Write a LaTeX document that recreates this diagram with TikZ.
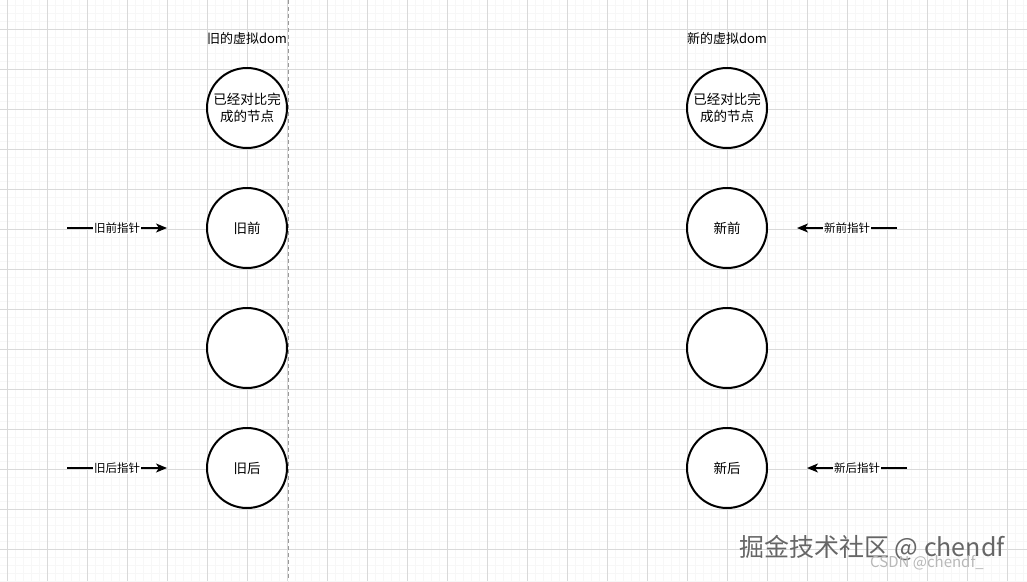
\documentclass[tikz,border=0pt]{standalone}
\usepackage{fontspec}
\newfontfamily\cjk{Noto Sans CJK SC}
\usetikzlibrary{arrows.meta}
\begin{document}
\begin{tikzpicture}[x=1pt,y=-1pt,
  circ/.style={circle,draw=black,line width=2pt,minimum size=80pt,inner sep=0pt,align=center,font=\cjk\fontsize{13.5}{16.5}\selectfont,fill=white},
  ttl/.style={font=\cjk\fontsize{13}{16}\selectfont,inner sep=0pt},
  ptr/.style={draw=black,line width=1.6pt,-{Stealth[length=11pt,width=9pt,inset=3pt]}},
  ptrlabel/.style={fill=white,inner sep=1pt,font=\cjk\fontsize{11.5}{14}\selectfont}
]
\useasboundingbox (0,0) rectangle (1027,581);
\fill[white] (0,0) rectangle (1027,581);
% minor grid
\foreach \x in {7.7,15.7,...,1027} \draw[black!3,line width=0.6pt] (\x,0) -- (\x,581);
\foreach \y in {5,13,...,581} \draw[black!3,line width=0.6pt] (0,\y) -- (1027,\y);
% major grid
\foreach \x in {7.7,47.7,...,1027} \draw[black!15,line width=0.9pt] (\x,0) -- (\x,581);
\foreach \y in {29,69,...,581} \draw[black!15,line width=0.9pt] (0,\y) -- (1027,\y);
% dashed divider
\draw[black!40,dashed,dash pattern=on 4pt off 3pt,line width=0.8pt] (288,0) -- (288,581);

% titles
\node[ttl] (t1) at (247,39) {旧的虚拟dom};
\node[ttl] (t2) at (727,39) {新的虚拟dom};

% left column
\node[circ] (o1) at (247,108) {已经对比完\\成的节点};
\node[circ] (o2) at (247,228) {旧前};
\node[circ] (o3) at (247,348) {};
\node[circ] (o4) at (247,468) {旧后};

% right column
\node[circ] (n1) at (727,108) {已经对比完\\成的节点};
\node[circ] (n2) at (727,228) {新前};
\node[circ] (n3) at (727,348) {};
\node[circ] (n4) at (727,468) {新后};

% pointers
\coordinate (a1s) at (67,228);  \coordinate (a1e) at (167,228);
\coordinate (a2s) at (67,468);  \coordinate (a2e) at (167,468);
\coordinate (b1s) at (897,228); \coordinate (b1e) at (797,228);
\coordinate (b2s) at (907,468); \coordinate (b2e) at (807,468);
\draw[ptr] (a1s) -- (a1e);
\draw[ptr] (a2s) -- (a2e);
\draw[ptr] (b1s) -- (b1e);
\draw[ptr] (b2s) -- (b2e);
\node[ptrlabel] (l1) at (117,228) {旧前指针};
\node[ptrlabel] (l2) at (117,468) {旧后指针};
\node[ptrlabel] (l3) at (847,228) {新前指针};
\node[ptrlabel] (l4) at (857,468) {新后指针};

% watermarks
\node[font=\cjk\fontsize{25}{29}\selectfont,text=black!60,inner sep=0pt,anchor=west] (w1) at (739,548) {掘金技术社区 @ chendf};
\node[font=\cjk\fontsize{15}{18}\selectfont,text=black!28,inner sep=0pt,anchor=west] (w2) at (870,563) {CSDN @chendf\_};
\end{tikzpicture}
\end{document}
